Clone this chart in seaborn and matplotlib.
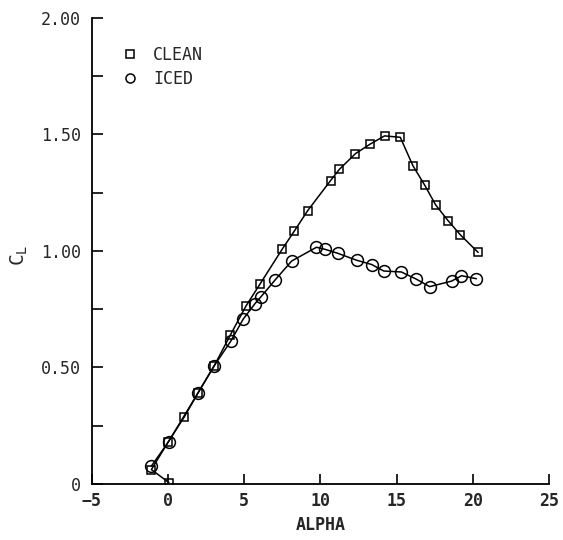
import matplotlib
matplotlib.use("Agg")
import matplotlib.pyplot as plt
from matplotlib.lines import Line2D
from matplotlib.ticker import MultipleLocator, FixedLocator, FixedFormatter
import seaborn as sns
import pandas as pd

# --- data ---
clean_alpha = [0.05, -1.1, 0.0, 1.07, 1.97, 3.03, 4.08, 5.11, 6.05, 7.48, 8.29, 9.16,
               10.66, 11.25, 12.30, 13.27, 14.21, 15.24, 16.07, 16.84, 17.57, 18.38,
               19.19, 20.35]
clean_cl = [0.006, 0.062, 0.18, 0.289, 0.392, 0.508, 0.639, 0.764, 0.86, 1.007, 1.086,
            1.173, 1.302, 1.351, 1.418, 1.459, 1.494, 1.488, 1.366, 1.283, 1.197, 1.130,
            1.069, 0.994]
iced_alpha = [-1.1, 0.03, 1.97, 3.03, 4.12, 4.93, 5.70, 6.10, 7.04, 8.11, 9.74, 10.31,
              11.14, 12.39, 13.36, 14.16, 15.31, 16.30, 17.17, 18.62, 19.26, 20.24]
iced_cl = [0.077, 0.182, 0.392, 0.508, 0.614, 0.708, 0.774, 0.804, 0.877, 0.957, 1.016,
           1.007, 0.99, 0.96, 0.942, 0.914, 0.91, 0.879, 0.847, 0.871, 0.894, 0.881]

series_names = ["CLEAN", "ICED"]
x_ticks = [-5, 0, 5, 10, 15, 20, 25]
y_ticks = [0, 0.5, 1.0, 1.5, 2.0]
y_tick_labels = ["0", "0.50", "1.00", "1.50", "2.00"]

sns.set_style("white")
plt.rcParams['font.family'] = ['DejaVu Sans Mono', 'DejaVu Sans']

fig = plt.figure(figsize=(5.63, 5.40), dpi=100)
ax = fig.add_axes([0.1634, 0.1037, 0.8116, 0.863])

clean_df = pd.DataFrame({"alpha": clean_alpha, "cl": clean_cl})
iced_df = pd.DataFrame({"alpha": iced_alpha, "cl": iced_cl})

sns.lineplot(data=clean_df, x="alpha", y="cl", sort=False, estimator=None, ax=ax,
             color="black", linewidth=1.1, marker="s", markersize=6,
             markerfacecolor="none", markeredgecolor="black", markeredgewidth=1.1,
             legend=False)
sns.lineplot(data=iced_df, x="alpha", y="cl", sort=False, estimator=None, ax=ax,
             color="black", linewidth=1.1, marker="o", markersize=8.5,
             markerfacecolor="none", markeredgecolor="black", markeredgewidth=1.1,
             legend=False)

ax.set_xlim(-5, 25)
ax.set_ylim(0, 2.0)
ax.xaxis.set_major_locator(FixedLocator(x_ticks))
ax.yaxis.set_major_locator(FixedLocator(y_ticks))
ax.yaxis.set_major_formatter(FixedFormatter(y_tick_labels))
ax.yaxis.set_minor_locator(MultipleLocator(0.25))

for side in ["top", "right"]:
    ax.spines[side].set_visible(False)
for side in ["left", "bottom"]:
    ax.spines[side].set_color("black")
    ax.spines[side].set_linewidth(1.3)

ax.tick_params(axis="both", which="both", direction="in", color="black", width=1.2)
ax.tick_params(axis="y", which="major", left=True, length=8, labelsize=12, pad=8)
ax.tick_params(axis="y", which="minor", left=True, length=8)
ax.tick_params(axis="x", which="major", bottom=True, length=7, labelsize=12, pad=6)
for lbl in ax.get_xticklabels():
    lbl.set_fontweight("bold")
for lbl in ax.get_yticklabels():
    lbl.set_fontweight("medium")

ax.set_xlabel("ALPHA", fontsize=12, fontweight="bold", labelpad=4)
ax.set_ylabel(r"C$_\mathregular{L}$", fontsize=14)
ax.yaxis.set_label_coords(-0.135, 0.49)

handles = [
    Line2D([], [], linestyle="none", marker="s", markersize=6, markerfacecolor="none",
           markeredgecolor="black", markeredgewidth=1.1),
    Line2D([], [], linestyle="none", marker="o", markersize=6.5, markerfacecolor="none",
           markeredgecolor="black", markeredgewidth=1.1),
]
leg = ax.legend(handles, series_names, loc="upper left", bbox_to_anchor=(0.05, 0.955),
                frameon=False, fontsize=12, handlelength=1.0, handletextpad=0.9,
                labelspacing=0.4, borderaxespad=0)

fig.savefig("out.png", dpi=100, facecolor="white")
